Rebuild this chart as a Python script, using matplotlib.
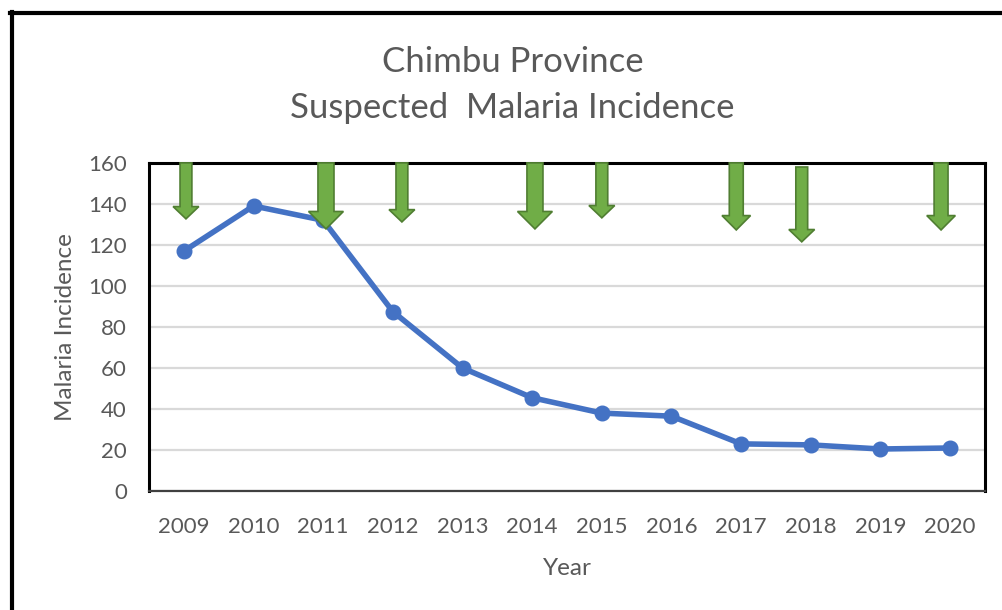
import matplotlib.pyplot as plt
from matplotlib.lines import Line2D
from matplotlib.patches import FancyArrow

plt.rcParams["font.family"] = ["Lato", "DejaVu Sans"]

years = ["2009", "2010", "2011", "2012", "2013", "2014",
         "2015", "2016", "2017", "2018", "2019", "2020"]
incidence = [117, 139, 132, 87.5, 60, 45.5, 38, 36.5, 23, 22.5, 20.5, 21]

# green arrows: position along the year axis (category index), tip value
arrow_pos = [0.03, 2.04, 3.13, 5.04, 6.0, 7.93, 8.87, 10.87]
arrow_tip = [132.7, 127.8, 131.2, 127.8, 133.2, 127.3, 121.5, 127.3]
arrow_top = [160, 160, 160, 160, 160, 160, 158, 160]
arrow_big = [0, 2, 0, 2, 0, 1, 0, 1]

fig = plt.figure(figsize=(10.03, 6.10), dpi=100)
ax = fig.add_axes([0.1486, 0.195, 0.8334, 0.538])

gray = "#595959"
x = list(range(len(years)))
ax.plot(x, incidence, color="#4472C4", lw=4, marker="o", ms=10.5,
        solid_capstyle="round", zorder=3)

ax.set_xlim(-0.5, 11.5)
ax.set_ylim(0, 160)
ax.set_yticks(range(0, 161, 20))
ax.set_xticks(x)
ax.set_xticklabels(years)
ax.tick_params(length=0, labelsize=16, labelcolor=gray)
ax.tick_params(axis="x", pad=19)
ax.tick_params(axis="y", pad=16)
ax.grid(axis="y", color="#D9D9D9", lw=1.6, zorder=0)
ax.set_axisbelow(True)
for s in ["left", "top", "right"]:
    ax.spines[s].set_color("black")
    ax.spines[s].set_linewidth(2.2)
ax.spines["bottom"].set_color("#404040")
ax.spines["bottom"].set_linewidth(1.6)

ax.set_xlabel("Year", fontsize=17.5, color=gray, labelpad=15)
ax.set_ylabel("Malaria Incidence", fontsize=17.5, color=gray, labelpad=9)

# arrow sizes in (shaft width, head width) category units, head length in y units
sizes = {0: (0.17, 0.37, 6.0), 1: (0.2, 0.41, 7.0), 2: (0.23, 0.5, 8.5)}
for p, tip, top, b in zip(arrow_pos, arrow_tip, arrow_top, arrow_big):
    w, hw, hl = sizes[b]
    a = FancyArrow(p, top, 0, tip - top, width=w, head_width=hw,
                   head_length=hl, length_includes_head=True,
                   facecolor="#70AD47", edgecolor="#507E32", lw=1.2,
                   zorder=5, clip_on=False)
    ax.add_patch(a)

fig.text(0.511, 0.898, "Chimbu Province", ha="center", va="center",
         fontsize=25, color=gray)
fig.text(0.511, 0.823, "Suspected  Malaria Incidence", ha="center",
         va="center", fontsize=25, color=gray)

# outer frame (cut off at right and bottom)
fig.add_artist(Line2D([0.0115, 0.0115], [0.0, 0.981], color="black", lw=3,
                      transform=fig.transFigure))
fig.add_artist(Line2D([0.0095, 1.0], [0.979, 0.979], color="black", lw=3,
                      transform=fig.transFigure))

fig.savefig("out.png", dpi=100)
